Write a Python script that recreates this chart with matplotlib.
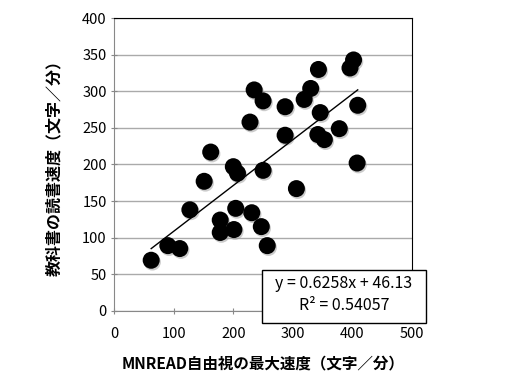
import matplotlib
matplotlib.use("Agg")
from matplotlib import pyplot as plt
from matplotlib.patches import Rectangle
import numpy as np

plt.rcParams['font.family'] = ['Noto Sans CJK JP', 'DejaVu Sans']

# MNREAD free-viewing max speed vs textbook reading speed
mnread_speed = [62, 90, 110, 127, 151, 162, 178, 178, 201, 204, 200, 207,
                228, 235, 250, 231, 247, 257, 250, 287, 287, 306,
                319, 330, 343, 346, 342, 353, 378, 396, 402, 409, 408]
textbook_speed = [69, 89, 85, 138, 177, 217, 124, 107, 111, 140, 197, 188,
                  258, 302, 287, 134, 115, 89, 192, 279, 240, 167,
                  289, 304, 330, 271, 241, 234, 249, 332, 343, 281, 202]

slope = 0.6258
intercept = 46.13
eq_text = "y = 0.6258x + 46.13"
r2_text = "R² = 0.54057"

x_ticks = [0, 100, 200, 300, 400, 500]
y_ticks = [0, 50, 100, 150, 200, 250, 300, 350, 400]

fig = plt.figure(figsize=(5.07, 3.77), dpi=100)
ax = fig.add_axes([0.2254, 0.1759, 0.587, 0.7756])

# soft shadow then the markers
ax.scatter(np.array(mnread_speed) + 2, np.array(textbook_speed) - 2.5, s=150,
           c='#999999', alpha=0.5, edgecolors='none', zorder=2)
ax.scatter(mnread_speed, textbook_speed, s=150, c='black', edgecolors='none', zorder=3)

xs = np.array([min(mnread_speed), max(mnread_speed)])
ax.plot(xs, slope * xs + intercept, color='black', lw=1, zorder=4)

ax.set_xlim(0, 500)
ax.set_ylim(0, 400)
ax.set_xticks(x_ticks)
ax.set_yticks(y_ticks)
ax.tick_params(axis='both', labelsize=10.5, color='#888888', length=4, direction='inout')
ax.tick_params(axis='x', pad=10)
ax.yaxis.grid(True, color='#aaaaaa', lw=1)
ax.set_axisbelow(True)
for s in ['left', 'bottom']:
    ax.spines[s].set_color('#888888')
for s in ['top', 'right']:
    ax.spines[s].set_color('black')

ax.set_xlabel('MNREAD自由視の最大速度（文字／分）', fontsize=11.2, fontweight='bold', labelpad=10)
ax.set_ylabel('教科書の読書速度（文字／分）', fontsize=11.5, fontweight='bold', labelpad=14)

# trendline label box
box = Rectangle((262 / 507, 1 - 323 / 377), 164 / 507, 53 / 377, transform=fig.transFigure,
                fc='white', ec='black', lw=1, zorder=10)
fig.patches.append(box)
fig.text(344 / 507, 1 - 284 / 377, eq_text, fontsize=11.5, ha='center', va='center', zorder=11)
fig.text(344 / 507, 1 - 306 / 377, r2_text, fontsize=11.5, ha='center', va='center', zorder=11)

fig.savefig('out.png', dpi=100)
